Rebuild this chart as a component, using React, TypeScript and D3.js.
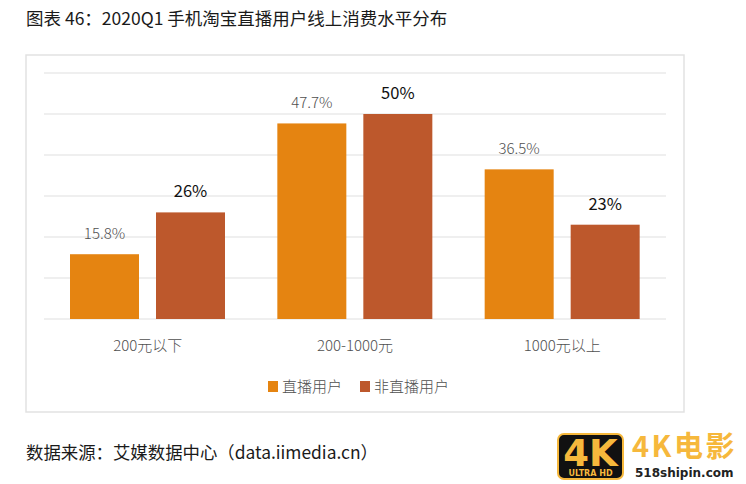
import * as d3 from "d3";

const categories = ["200元以下", "200-1000元", "1000元以上"];
const seriesNames = ["直播用户", "非直播用户"];
const liveUsers = [15.8, 47.7, 36.5];
const nonLiveUsers = [26, 50, 23];
const liveLabels = ["15.8%", "47.7%", "36.5%"];
const nonLiveLabels = ["26%", "50%", "23%"];
const gridTicks = [0, 10, 20, 30, 40, 50, 60];

const colors = ["#e58411", "#bd582c"];
const font = "'Noto Sans CJK SC', 'Noto Sans', sans-serif";
const logoFont = "'DejaVu Sans', sans-serif";

export default function App() {
  const x0 = d3.scaleBand<string>().domain(categories).range([44, 666]);
  const x1 = d3
    .scaleBand<number>()
    .domain([0, 1])
    .range([26, 181])
    .paddingInner(17 / 86);
  const y = d3.scaleLinear().domain([0, 60]).range([319, 73]);

  const series = [
    { values: liveUsers, labels: liveLabels, text: "#505050", size: 15, weight: 300 },
    { values: nonLiveUsers, labels: nonLiveLabels, text: "#111", size: 16.5, weight: 400 },
  ];

  return (
    <svg
      width={746}
      height={484}
      style={{ position: "absolute", left: 0, top: 0, fontFamily: font }}
    >
      <rect width={746} height={484} fill="#fff" />
      <text x={26} y={25} fontSize={17.5} fill="#1a1a1a">
        图表 46：2020Q1 手机淘宝直播用户线上消费水平分布
      </text>

      <rect x={26} y={55} width={658} height={357} fill="#fff" stroke="#e2e2e2" strokeWidth={1.5} />

      {gridTicks.map((t) => (
        <line key={t} x1={44} x2={666} y1={y(t)} y2={y(t)} stroke="#e0e0e0" strokeWidth={1.2} />
      ))}

      {series.map((s, si) =>
        categories.map((c, i) => {
          const bx = x0(c)! + x1(si)!;
          const label = s.labels[i];
          return (
            <g key={c + si}>
              <rect
                x={bx}
                y={y(s.values[i])}
                width={x1.bandwidth()}
                height={y(0) - y(s.values[i])}
                fill={colors[si]}
              />
              <text
                x={bx + x1.bandwidth() / 2}
                y={y(s.values[i]) - 15}
                textAnchor="middle"
                fontSize={s.size}
                fontWeight={s.weight}
                fill={s.text}
              >
                {label}
              </text>
            </g>
          );
        })
      )}

      {categories.map((c) => (
        <text
          key={c}
          x={x0(c)! + x0.bandwidth() / 2}
          y={351}
          textAnchor="middle"
          fontSize={15}
          fontWeight={300}
          fill="#505050"
        >
          {c}
        </text>
      ))}

      {seriesNames.map((n, i) => {
        const lx = [268, 360][i];
        return (
          <g key={n}>
            <rect x={lx} y={381} width={10} height={11} fill={colors[i]} />
            <text x={lx + 14} y={392} fontSize={15} fontWeight={300} fill="#505050">
              {n}
            </text>
          </g>
        );
      })}

      <text x={26} y={459} fontSize={17.4} fill="#1a1a1a">
        数据来源：艾媒数据中心（data.iimedia.cn）
      </text>

      {/* watermark */}
      <rect x={558} y={434} width={65} height={45} rx={6} fill="#111" stroke="#f6b83c" strokeWidth={2} />
      <text x={590.5} y={466} textAnchor="middle" fontSize={37} fontWeight={700} fontFamily={logoFont} fill="#f6b83c">
        4K
      </text>
      <text x={590.5} y={476} textAnchor="middle" fontSize={8} fontWeight={700} fontFamily={logoFont} fill="#f6b83c">
        ULTRA HD
      </text>
      <text x={632} y={457} fontSize={29} fontWeight={700} letterSpacing={2.5} fill="#f6b83c">
        4K电影
      </text>
      <text x={635} y={477} fontSize={12} fontWeight={700} fontFamily={logoFont} fill="#222">
        518shipin.com
      </text>
    </svg>
  );
}
